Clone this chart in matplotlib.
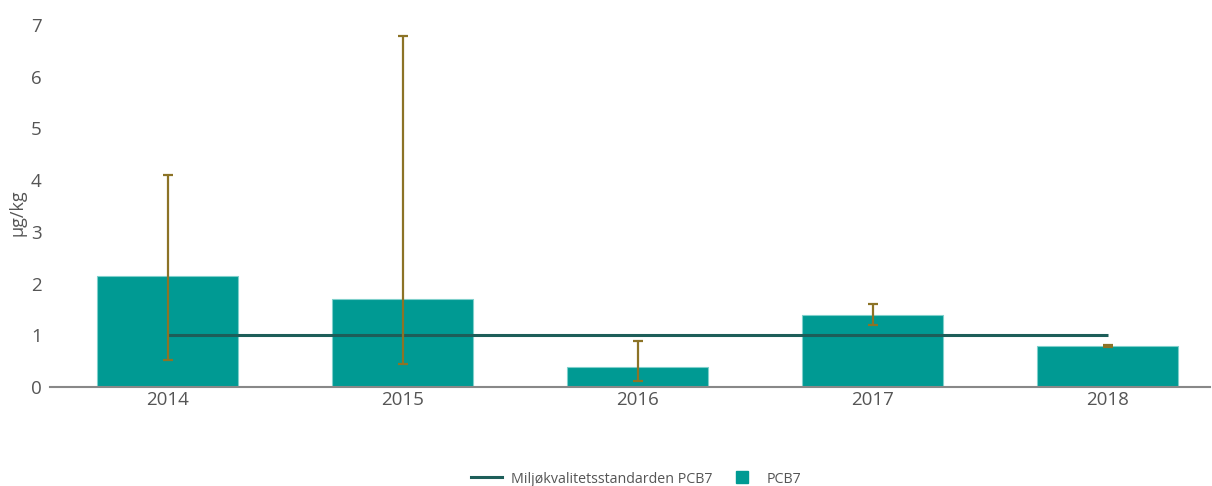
import matplotlib
matplotlib.use("Agg")
import matplotlib.pyplot as plt
from matplotlib.lines import Line2D
import numpy as np

plt.rcParams['font.family'] = ['Open Sans', 'DejaVu Sans']

years = ["2014", "2015", "2016", "2017", "2018"]
pcb7 = [2.15, 1.70, 0.38, 1.39, 0.79]
err_low = [0.52, 0.45, 0.11, 1.19, 0.78]
err_high = [4.09, 6.79, 0.88, 1.60, 0.81]
standard = [1.0, 1.0, 1.0, 1.0, 1.0]
yticks = [0, 1, 2, 3, 4, 5, 6, 7]

fig = plt.figure(figsize=(12.12, 4.86), dpi=100)
ax = fig.add_axes([50/1212, 1-387/486, (1210-50)/1212, (387-25)/486])

x = np.arange(len(years))
bar_color = "#009a93"
ax.bar(x, pcb7, width=0.6, color=bar_color, edgecolor="#7fd0cb", linewidth=0.8, zorder=2)

ax.plot(x, standard, color="#1d5e59", linewidth=2.2, zorder=3, solid_capstyle="butt")

pcb = np.array(pcb7)
yerr = np.array([pcb - np.array(err_low), np.array(err_high) - pcb])
ax.errorbar(x, pcb, yerr=yerr, fmt="none", ecolor="#8c7326", elinewidth=1.6,
            capsize=3.5, capthick=1.6, zorder=4)

ax.set_xlim(-0.502, 4.435)
ax.set_ylim(0, 7)
ax.set_yticks(yticks)
ax.set_yticklabels([str(v) for v in yticks])
ax.set_xticks(x)
ax.set_xticklabels(years)

for s in ["top", "right", "left"]:
    ax.spines[s].set_visible(False)
ax.spines["bottom"].set_color("#888888")
ax.spines["bottom"].set_linewidth(1.5)
ax.tick_params(axis="y", length=0, pad=6, labelsize=13.5, labelcolor="#555555")
ax.tick_params(axis="x", length=0, pad=3, labelsize=13.5, labelcolor="#555555")

fig.text(18/1212, 1-213/486, "µg/kg", rotation=90, ha="center", va="center",
         fontsize=13, color="#555555")

handles = [Line2D([0], [0], color="#1d5e59", linewidth=2.2),
           Line2D([0], [0], color=bar_color, linestyle="none", marker="s",
                  markersize=9)]
labels = ["Miljøkvalitetsstandarden PCB7", "PCB7"]
leg = fig.legend(handles, labels, loc="center", bbox_to_anchor=(636/1212, 1-479/486),
                 ncol=2, frameon=False, fontsize=10.3, handlelength=2.2,
                 columnspacing=1.0, handletextpad=0.6)
for t in leg.get_texts():
    t.set_color("#555555")

fig.savefig("out.png", dpi=100)
